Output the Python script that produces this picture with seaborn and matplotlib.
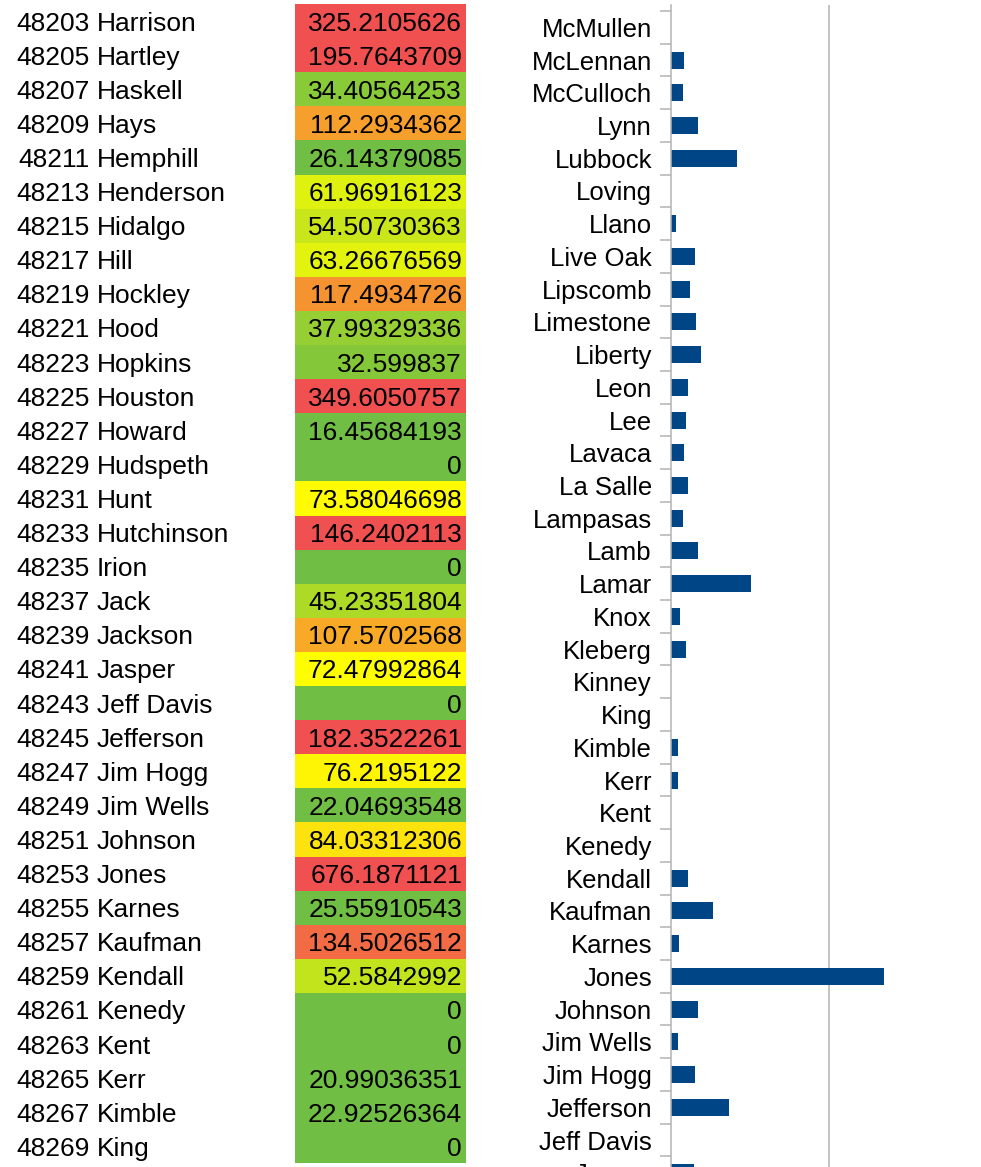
import numpy as np
import pandas as pd
import matplotlib
matplotlib.use("Agg")
import matplotlib.pyplot as plt
from matplotlib.colors import LinearSegmentedColormap
from matplotlib.transforms import blended_transform_factory
import seaborn as sns

# Table: county FIPS code, county name, rate
fips_codes = [48203, 48205, 48207, 48209, 48211, 48213, 48215, 48217, 48219,
              48221, 48223, 48225, 48227, 48229, 48231, 48233, 48235, 48237,
              48239, 48241, 48243, 48245, 48247, 48249, 48251, 48253, 48255,
              48257, 48259, 48261, 48263, 48265, 48267, 48269]
county_names = ["Harrison", "Hartley", "Haskell", "Hays", "Hemphill", "Henderson",
                "Hidalgo", "Hill", "Hockley", "Hood", "Hopkins", "Houston",
                "Howard", "Hudspeth", "Hunt", "Hutchinson", "Irion", "Jack",
                "Jackson", "Jasper", "Jeff Davis", "Jefferson", "Jim Hogg",
                "Jim Wells", "Johnson", "Jones", "Karnes", "Kaufman", "Kendall",
                "Kenedy", "Kent", "Kerr", "Kimble", "King"]
rates = [325.2105626, 195.7643709, 34.40564253, 112.2934362, 26.14379085,
         61.96916123, 54.50730363, 63.26676569, 117.4934726, 37.99329336,
         32.599837, 349.6050757, 16.45684193, 0, 73.58046698, 146.2402113, 0,
         45.23351804, 107.5702568, 72.47992864, 0, 182.3522261, 76.2195122,
         22.04693548, 84.03312306, 676.1871121, 25.55910543, 134.5026512,
         52.5842992, 0, 0, 20.99036351, 22.92526364, 0]

# Bar chart: counties in reverse alphabetical order
bar_counties = ["McMullen", "McLennan", "McCulloch", "Lynn", "Lubbock", "Loving",
                "Llano", "Live Oak", "Lipscomb", "Limestone", "Liberty", "Leon",
                "Lee", "Lavaca", "La Salle", "Lampasas", "Lamb", "Lamar", "Knox",
                "Kleberg", "Kinney", "King", "Kimble", "Kerr", "Kent", "Kenedy",
                "Kendall", "Kaufman", "Karnes", "Jones", "Johnson", "Jim Wells",
                "Jim Hogg", "Jefferson", "Jeff Davis", "Jasper"]
bar_rates = [0, 41, 38, 85, 209, 0, 16, 76, 60, 79, 95, 54, 47, 41, 54, 38, 85,
             253, 28, 47, 0, 0, 22.92526364, 20.99036351, 0, 0, 52.5842992,
             134.5026512, 25.55910543, 676.1871121, 84.03312306, 22.04693548,
             76.2195122, 182.3522261, 0, 72.47992864]

sns.set_theme(style="white")
plt.rcParams["font.family"] = ["Liberation Sans", "DejaVu Sans"]

W, H = 981, 1167
fig = plt.figure(figsize=(W / 100, H / 100), dpi=100)
fig.patch.set_facecolor("white")

# ---- conditional-format style table ----
scale = LinearSegmentedColormap.from_list(
    "rate_scale", [(0.0, "#70BF44"), (46 / 120, "#FFFF00"), (1.0, "#F05050")])

tab_top, tab_bottom = 4, 1163.4
ax_tab = fig.add_axes([295 / W, (H - tab_bottom) / H, 171 / W,
                       (tab_bottom - tab_top) / H])
sns.heatmap(np.array(rates, dtype=float).reshape(-1, 1), ax=ax_tab, cmap=scale,
            vmin=26, vmax=146, cbar=False, xticklabels=False,
            yticklabels=False, linewidths=0)
ax_tab.set_xlabel("")
ax_tab.set_ylabel("")

tr = blended_transform_factory(fig.transFigure, ax_tab.transData)
fs_tab = 19
for i, (code, name, val) in enumerate(zip(fips_codes, county_names, rates)):
    y = i + 0.78
    ax_tab.text(90 / W, y, str(code), transform=tr, ha="right", va="baseline",
                fontsize=fs_tab, color="black", clip_on=False)
    ax_tab.text(97 / W, y, name, transform=tr, ha="left", va="baseline",
                fontsize=fs_tab, color="black", clip_on=False)
    ax_tab.text(462 / W, y, f"{val:.10g}", transform=tr, ha="right",
                va="baseline", fontsize=fs_tab, color="black", clip_on=False)

# ---- horizontal bar chart ----
ax_bar = fig.add_axes([671 / W, 0, (W - 671) / W, (H - 5) / H])
df = pd.DataFrame({"county": bar_counties, "rate": bar_rates})
sns.barplot(data=df, x="rate", y="county", orient="h", color="#004586",
            saturation=1, width=0.52, linewidth=0, edgecolor="none", ax=ax_bar)

n_show = 35
ax_bar.set_ylim(34.825, -0.683)
ax_bar.set_xlim(0, 983)
ax_bar.set_xlabel("")
ax_bar.set_ylabel("")
ax_bar.set_axisbelow(True)

ax_bar.set_yticks(range(n_show))
ax_bar.set_yticklabels(bar_counties[:n_show])
ax_bar.set_yticks(np.arange(-0.5, n_show + 0.5, 1), minor=True)
ax_bar.tick_params(axis="y", which="major", length=0, pad=13.7,
                   labelsize=18.5, labelcolor="black")
ax_bar.tick_params(axis="y", which="minor", length=7.9, width=1.1,
                   color="#b3b3b3", left=True)

ax_bar.set_xticks([500])
ax_bar.tick_params(axis="x", length=0, labelbottom=False)
ax_bar.grid(axis="x", color="#b3b3b3", linewidth=1.1)
ax_bar.grid(axis="y", visible=False)

for side in ["top", "right", "bottom"]:
    ax_bar.spines[side].set_visible(False)
ax_bar.spines["left"].set_color("#b3b3b3")
ax_bar.spines["left"].set_linewidth(1.1)

# last category label, partly below the visible range
tr_bar = blended_transform_factory(fig.transFigure, ax_bar.transData)
ax_bar.text(652 / W, n_show, bar_counties[n_show], transform=tr_bar,
            ha="right", va="center_baseline", fontsize=18.5, color="black",
            clip_on=False)

fig.savefig("out.png", dpi=100, facecolor="white")
